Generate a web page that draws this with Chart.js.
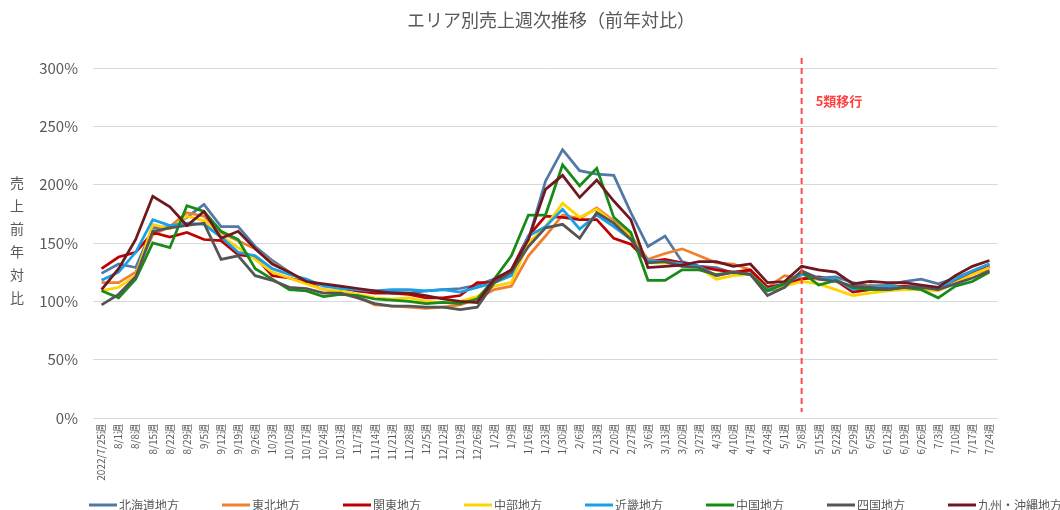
<!DOCTYPE html>
<html>
<head>
<meta charset="utf-8">
<script src="https://cdn.jsdelivr.net/npm/chart.js@4.4.1/dist/chart.umd.min.js"></script>
<style>
  html, body { margin: 0; padding: 0; background: #fff; }
</style>
</head>
<body>
<canvas id="chart" width="1060" height="510"></canvas>
<script>
// 週ラベル
const weeks = [
  '2022/7/25週', '8/1週', '8/8週', '8/15週', '8/22週', '8/29週', '9/5週', '9/12週', '9/19週', '9/26週',
  '10/3週', '10/10週', '10/17週', '10/24週', '10/31週', '11/7週', '11/14週', '11/21週', '11/28週', '12/5週',
  '12/12週', '12/19週', '12/26週', '1/2週', '1/9週', '1/16週', '1/23週', '1/30週', '2/6週', '2/13週',
  '2/20週', '2/27週', '3/6週', '3/13週', '3/20週', '3/27週', '4/3週', '4/10週', '4/17週', '4/24週',
  '5/1週', '5/8週', '5/15週', '5/22週', '5/29週', '6/5週', '6/12週', '6/19週', '6/26週', '7/3週',
  '7/10週', '7/17週', '7/24週'
];

const areas = ['北海道地方', '東北地方', '関東地方', '中部地方', '近畿地方', '中国地方', '四国地方', '九州・沖縄地方'];
const colors = ['#5079a8', '#f08030', '#c00000', '#ffd200', '#19a0e6', '#188a18', '#555555', '#701820'];

// 前年対比 (%)
const hokkaido = [124, 132, 129, 163, 164, 172, 183, 164, 164, 147, 135, 125, 116, 114, 111, 109, 108, 108, 107, 109,
  110, 111, 114, 119, 125, 153, 203, 230, 212, 209, 208, 176, 147, 156, 134, 130, 129, 124, 126, 109,
  112, 126, 120, 121, 116, 113, 114, 117, 119, 115, 120, 126, 132];
const tohoku = [116, 116, 125, 157, 164, 176, 173, 159, 152, 145, 133, 125, 116, 110, 108, 104, 97, 96, 95, 94,
  95, 97, 102, 110, 113, 139, 156, 174, 171, 180, 169, 156, 136, 141, 145, 139, 133, 132, 127, 112,
  122, 120, 119, 119, 110, 114, 113, 113, 112, 110, 119, 124, 127];
const kanto = [128, 138, 142, 159, 155, 159, 153, 152, 140, 138, 122, 120, 116, 114, 112, 109, 107, 107, 106, 103,
  103, 105, 116, 116, 127, 156, 173, 172, 170, 170, 154, 149, 134, 136, 133, 130, 127, 125, 127, 112,
  115, 119, 121, 118, 108, 110, 112, 113, 112, 110, 117, 125, 130];
const chubu = [109, 112, 122, 166, 162, 173, 169, 156, 146, 136, 125, 120, 115, 110, 109, 106, 103, 102, 103, 100,
  99, 100, 104, 113, 116, 150, 164, 184, 172, 179, 167, 156, 133, 133, 132, 129, 119, 122, 123, 110,
  113, 117, 115, 110, 105, 107, 109, 110, 110, 109, 116, 123, 129];
const kinki = [118, 125, 142, 170, 165, 167, 166, 155, 142, 139, 128, 123, 119, 113, 111, 110, 109, 110, 110, 109,
  110, 108, 112, 116, 122, 156, 164, 179, 162, 174, 164, 153, 135, 134, 132, 130, 122, 125, 123, 110,
  115, 123, 120, 119, 110, 113, 113, 112, 113, 110, 119, 126, 132];
const chugoku = [109, 103, 119, 150, 146, 182, 177, 160, 153, 128, 119, 110, 109, 104, 106, 105, 102, 101, 100, 98,
  99, 98, 102, 119, 139, 174, 174, 217, 199, 214, 172, 159, 118, 118, 127, 127, 123, 125, 123, 109,
  115, 125, 114, 118, 112, 110, 110, 112, 110, 103, 113, 117, 125];
const shikoku = [97, 106, 121, 160, 163, 165, 167, 136, 139, 122, 118, 112, 111, 107, 107, 103, 98, 96, 96, 95,
  95, 93, 95, 116, 125, 147, 163, 166, 154, 176, 167, 153, 133, 134, 130, 129, 122, 125, 123, 105,
  112, 126, 119, 117, 113, 112, 110, 112, 112, 110, 115, 120, 126];
const kyushu = [110, 128, 153, 190, 181, 165, 177, 154, 160, 145, 132, 125, 117, 115, 113, 111, 109, 107, 107, 105,
  102, 100, 99, 119, 127, 153, 196, 208, 189, 204, 186, 170, 129, 130, 131, 134, 134, 130, 132, 116,
  117, 130, 127, 125, 115, 117, 116, 116, 114, 112, 122, 130, 135];

const series = [hokkaido, tohoku, kanto, chubu, kinki, chugoku, shikoku, kyushu];
const markerWeek = '5/8週';
const markerText = '5類移行';
const yTitle = '売上前年対比';
const chartTitle = 'エリア別売上週次推移（前年対比）';

const FONT = "'Noto Sans CJK JP', 'Noto Sans', sans-serif";
const TEXT = '#595959';

// 5類移行の破線・タイトル・凡例
const decor = {
  id: 'decor',
  afterDatasetsDraw(chart) {
    const { ctx, scales: { x } } = chart;
    const px = x.getPixelForValue(weeks.indexOf(markerWeek));
    ctx.save();
    ctx.strokeStyle = '#ff4a4a';
    ctx.lineWidth = 2;
    ctx.setLineDash([6, 4]);
    ctx.beginPath();
    ctx.moveTo(px, 58);
    ctx.lineTo(px, 412);
    ctx.stroke();
    ctx.setLineDash([]);
    ctx.fillStyle = '#ff4040';
    ctx.font = 'bold 13px ' + FONT;
    ctx.textBaseline = 'middle';
    ctx.fillText(markerText, px + 14, 101);
    ctx.restore();
  },
  afterDraw(chart) {
    const { ctx } = chart;
    ctx.save();
    ctx.fillStyle = TEXT;
    ctx.textBaseline = 'middle';

    // タイトル
    ctx.font = '18px ' + FONT;
    ctx.textAlign = 'center';
    ctx.fillText(chartTitle, 551, 20);

    // 縦書きの軸タイトル
    ctx.font = '14px ' + FONT;
    [...yTitle].forEach((ch, i) => ctx.fillText(ch, 17, 183 + i * 23));

    // 凡例
    ctx.font = '12px ' + FONT;
    ctx.textAlign = 'left';
    let lx = 89;
    chart.data.datasets.forEach(ds => {
      ctx.strokeStyle = ds.borderColor;
      ctx.lineWidth = 3;
      ctx.beginPath();
      ctx.moveTo(lx, 505);
      ctx.lineTo(lx + 28, 505);
      ctx.stroke();
      ctx.fillText(ds.label, lx + 30, 505);
      lx += 30 + ctx.measureText(ds.label).width + 43;
    });
    ctx.restore();
  }
};

new Chart(document.getElementById('chart'), {
  type: 'line',
  data: {
    labels: weeks,
    datasets: areas.map((name, i) => ({
      label: name,
      data: series[i],
      borderColor: colors[i],
      backgroundColor: colors[i],
      borderWidth: 2.75,
      pointRadius: 0,
      tension: 0,
      order: areas.length - i // 後の系列を上に描く
    }))
  },
  options: {
    responsive: false,
    animation: false,
    layout: { padding: { top: 68, right: 62, left: 0, bottom: 0 } },
    plugins: {
      legend: { display: false },
      title: { display: false },
      tooltip: { enabled: false }
    },
    scales: {
      x: {
        offset: true,
        grid: { display: false, drawTicks: false },
        border: { display: false },
        ticks: {
          autoSkip: false,
          minRotation: 90,
          maxRotation: 90,
          padding: 6,
          color: TEXT,
          font: { family: FONT, size: 10 }
        },
        afterFit: scale => { scale.height = 92; }
      },
      y: {
        min: 0,
        max: 300,
        grid: { color: '#d9d9d9', lineWidth: 1, drawTicks: false },
        border: { display: false },
        ticks: {
          stepSize: 50,
          padding: 15,
          color: TEXT,
          font: { family: FONT, size: 15 },
          callback: v => v + '%'
        },
        afterFit: scale => { scale.width = 93; }
      }
    }
  },
  plugins: [decor]
});
</script>
</body>
</html>
